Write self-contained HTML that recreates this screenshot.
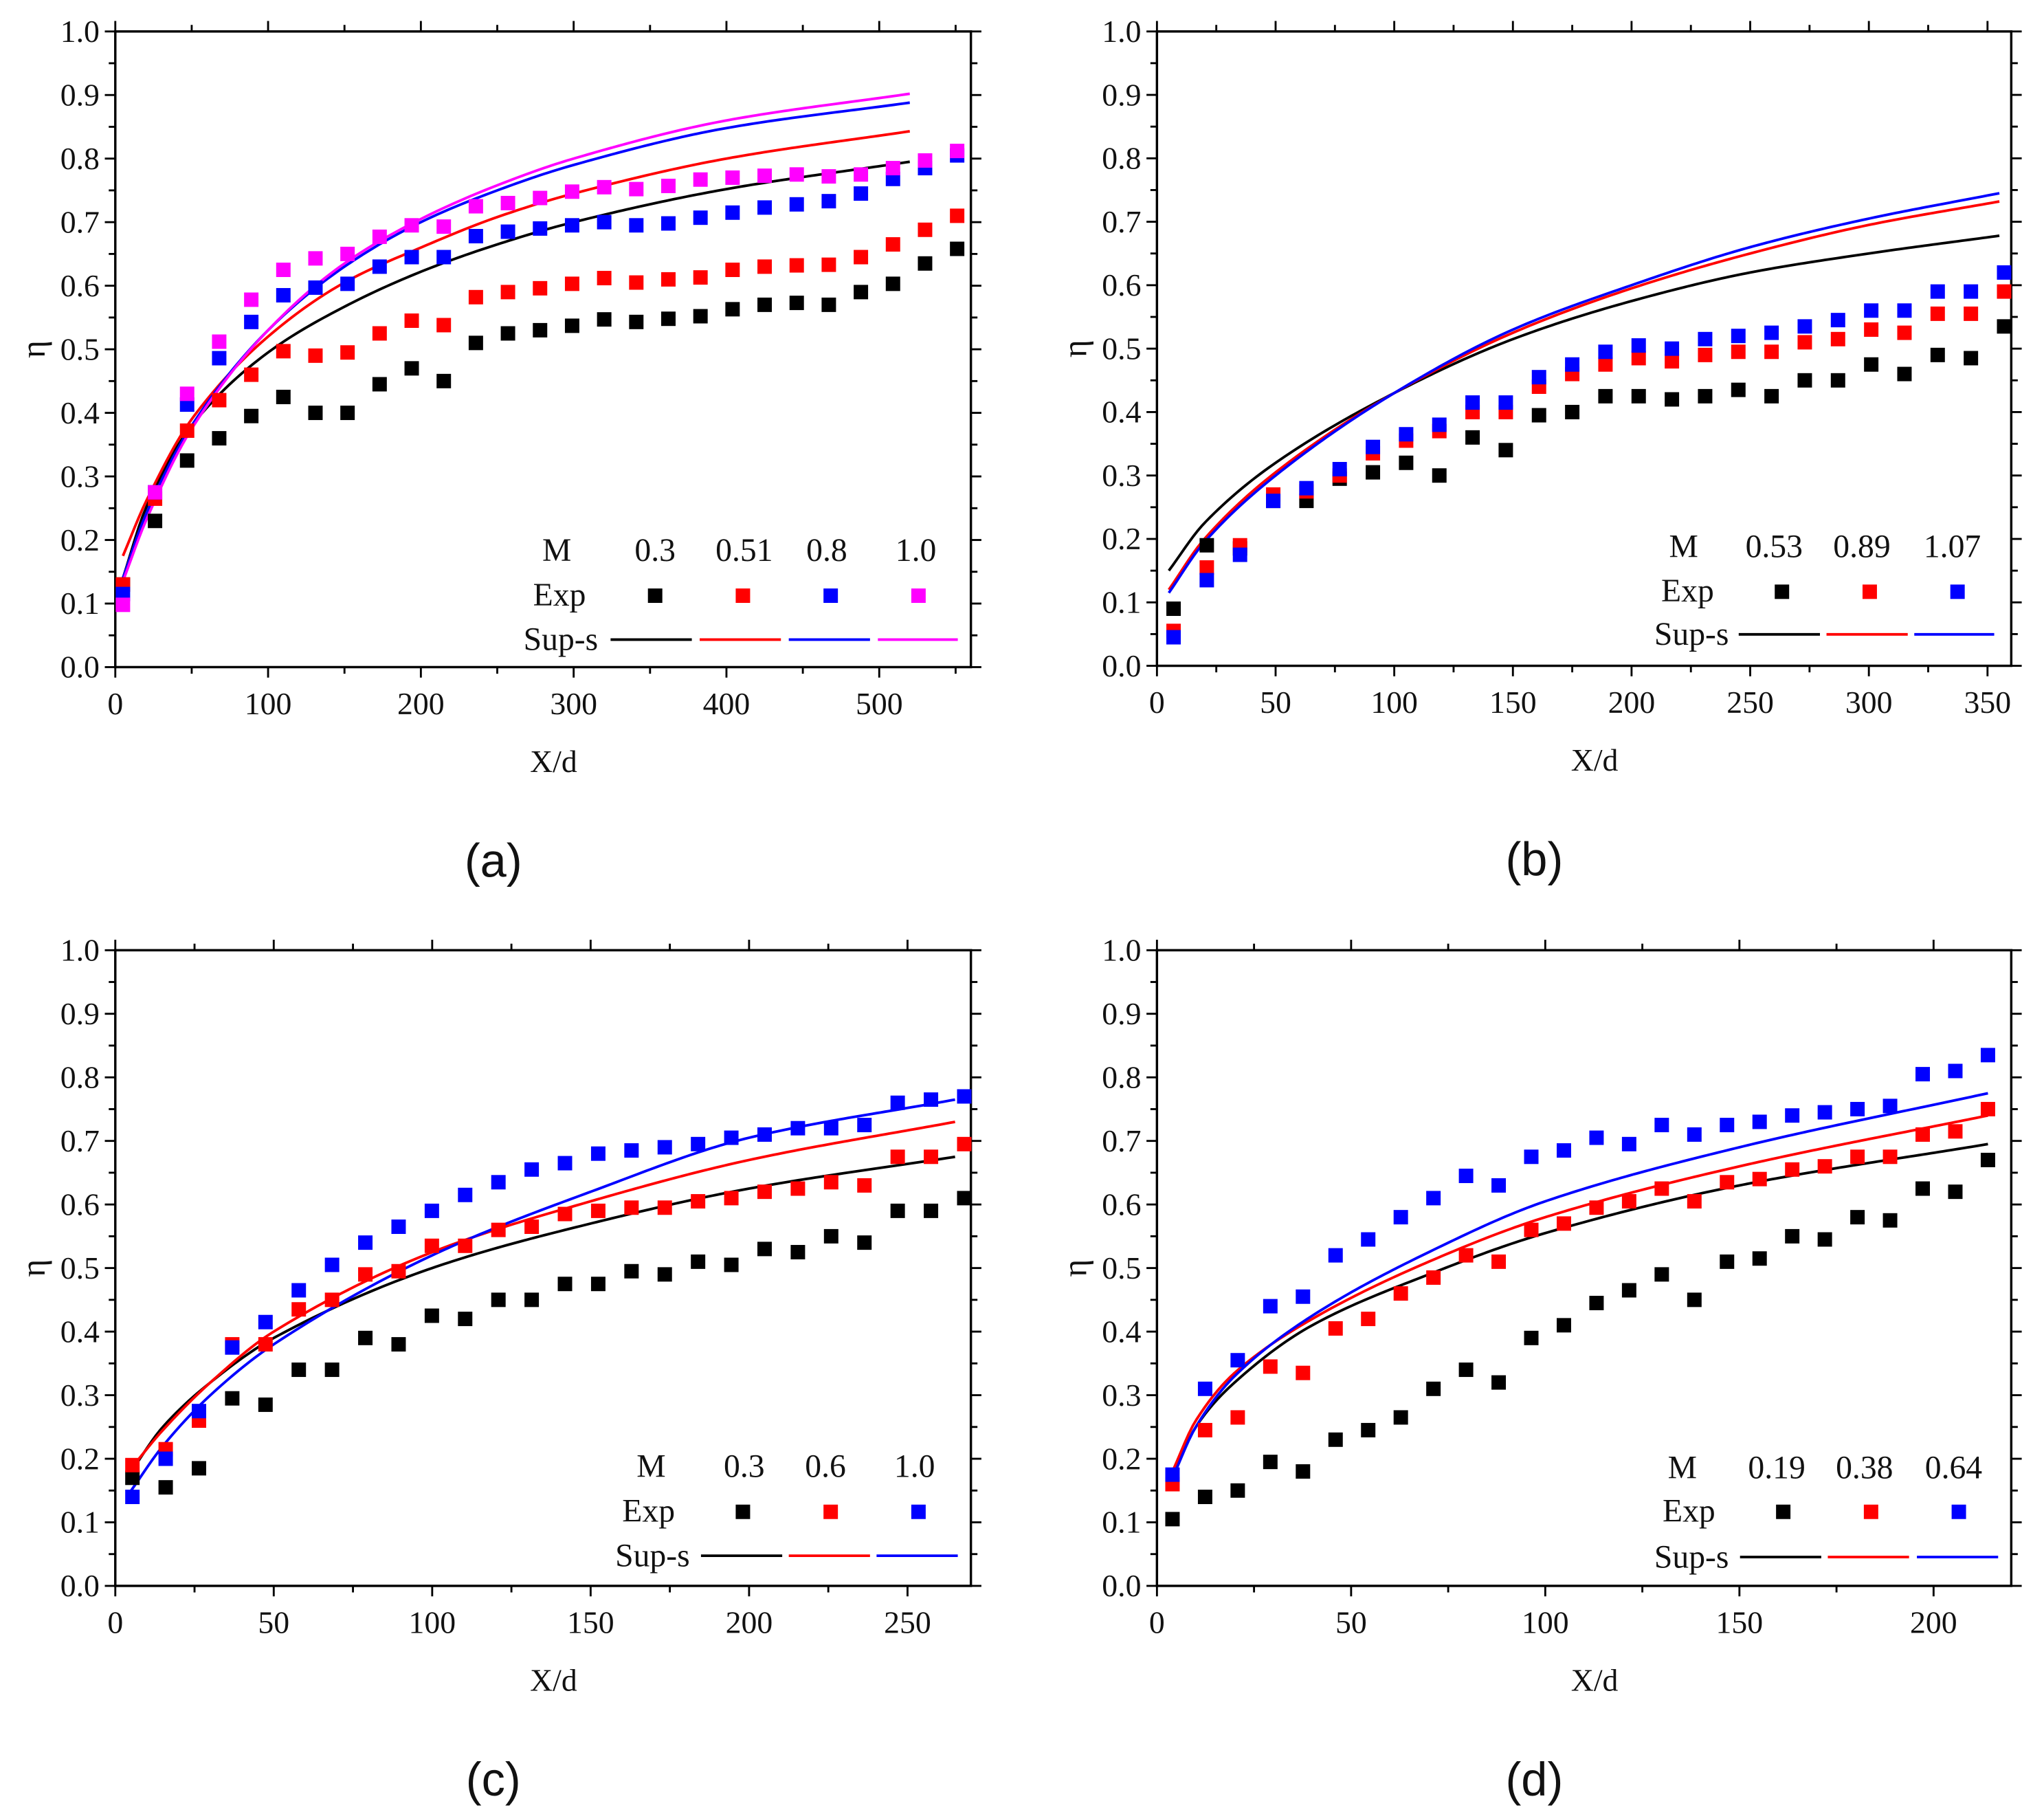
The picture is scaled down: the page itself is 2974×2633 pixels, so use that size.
<!DOCTYPE html>
<html><head><meta charset="utf-8">
<style>
html,body{margin:0;padding:0;background:#fff;}
svg{display:block;}
text{font-family:"Liberation Serif",serif;fill:#111;}
</style></head>
<body>
<svg id="fig" width="2974" height="2633" viewBox="0 0 1560 1381" preserveAspectRatio="none" xmlns="http://www.w3.org/2000/svg"></svg>
<script>
// ---------- Panel (a) data ----------
const aExpX=[5,26,47,68,89,110,131,152,173,194,215,236,257,278,299,320,341,362,383,404,425,446,467,488,509,530,551];
const aExpBlack=[0.13,0.23,0.325,0.36,0.395,0.425,0.40,0.40,0.445,0.47,0.45,0.51,0.525,0.53,0.537,0.547,0.543,0.548,0.552,0.563,0.57,0.573,0.57,0.59,0.603,0.635,0.658];
const aExpRed=[0.13,0.265,0.372,0.42,0.46,0.497,0.49,0.495,0.525,0.545,0.538,0.582,0.59,0.596,0.603,0.612,0.605,0.61,0.613,0.625,0.63,0.632,0.633,0.645,0.665,0.688,0.71];
const aExpBlue=[0.115,0.275,0.413,0.486,0.543,0.585,0.597,0.603,0.63,0.645,0.645,0.678,0.685,0.69,0.695,0.7,0.695,0.698,0.707,0.715,0.723,0.728,0.733,0.745,0.768,0.785,0.805];
const aExpMag=[0.098,0.275,0.43,0.512,0.578,0.625,0.643,0.65,0.677,0.695,0.693,0.725,0.73,0.738,0.748,0.755,0.752,0.757,0.767,0.77,0.773,0.775,0.772,0.775,0.785,0.797,0.812];
const aCurveX=[5,20,50,100,150,200,250,300,400,520];
const aCurveBlack=[0.14,0.25,0.38,0.495,0.567,0.622,0.665,0.70,0.752,0.795];
const aCurveRed=[0.175,0.26,0.39,0.52,0.605,0.66,0.708,0.745,0.80,0.843];
const aCurveBlue=[0.14,0.24,0.38,0.53,0.63,0.70,0.75,0.79,0.848,0.888];
const aCurveMag=[0.135,0.23,0.375,0.53,0.635,0.705,0.758,0.80,0.86,0.902];
const aLabels=["0.3","0.51","0.8","1.0"];
const aXTicks=[0,100,200,300,400,500];
// ---------- Panel (b) data ----------
const bExpX=[7,21,35,49,63,77,91,105,119,133,147,161,175,189,203,217,231,245,259,273,287,301,315,329,343,357];
const bExpBlack=[0.09,0.19,0.185,0.26,0.26,0.295,0.305,0.32,0.30,0.36,0.34,0.395,0.40,0.425,0.425,0.42,0.425,0.435,0.425,0.45,0.45,0.475,0.46,0.49,0.485,0.535];
const bExpRed=[0.055,0.155,0.19,0.27,0.275,0.30,0.335,0.355,0.37,0.40,0.40,0.44,0.46,0.475,0.485,0.48,0.49,0.495,0.495,0.51,0.515,0.53,0.525,0.555,0.555,0.59];
const bExpBlue=[0.045,0.135,0.175,0.26,0.28,0.31,0.345,0.365,0.38,0.415,0.415,0.455,0.475,0.495,0.505,0.50,0.515,0.52,0.525,0.535,0.545,0.56,0.56,0.59,0.59,0.62];
const bCurveX=[5,20,50,100,150,200,250,300,355];
const bCurveBlack=[0.15,0.225,0.32,0.43,0.515,0.575,0.62,0.65,0.678];
const bCurveRed=[0.12,0.2,0.305,0.43,0.525,0.595,0.65,0.695,0.732];
const bCurveBlue=[0.115,0.195,0.30,0.43,0.53,0.60,0.66,0.705,0.745];
const bLabels=["0.53","0.89","1.07"];
const bXTicks=[0,50,100,150,200,250,300,350];
// ---------- Panel (c) data ----------
const cExpX=[5.4,15.9,26.4,36.9,47.4,57.9,68.4,78.9,89.4,99.9,110.4,120.9,131.4,141.9,152.4,162.9,173.4,183.9,194.4,204.9,215.4,225.9,236.4,246.9,257.4,267.9];
const cExpBlack=[0.17,0.155,0.185,0.295,0.285,0.34,0.34,0.39,0.38,0.425,0.42,0.45,0.45,0.475,0.475,0.495,0.49,0.51,0.505,0.53,0.525,0.55,0.54,0.59,0.59,0.61];
const cExpRed=[0.19,0.215,0.26,0.38,0.38,0.435,0.45,0.49,0.495,0.535,0.535,0.56,0.565,0.585,0.59,0.595,0.595,0.605,0.61,0.62,0.625,0.635,0.63,0.675,0.675,0.695];
const cExpBlue=[0.14,0.20,0.275,0.375,0.415,0.465,0.505,0.54,0.565,0.59,0.615,0.635,0.655,0.665,0.68,0.685,0.69,0.695,0.705,0.71,0.72,0.72,0.725,0.76,0.765,0.77];
const cCurveX=[5,15,30,50,100,150,200,265];
const cCurveBlack=[0.18,0.25,0.32,0.39,0.50,0.57,0.625,0.675];
const cCurveRed=[0.185,0.245,0.32,0.40,0.525,0.605,0.67,0.73];
const cCurveBlue=[0.15,0.22,0.30,0.38,0.52,0.62,0.705,0.765];
const cLabels=["0.3","0.6","1.0"];
const cXTicks=[0,50,100,150,200,250];
// ---------- Panel (d) data ----------
const dExpX=[4,12.4,20.8,29.2,37.6,46,54.4,62.8,71.2,79.6,88,96.4,104.8,113.2,121.6,130,138.4,146.8,155.2,163.6,172,180.4,188.8,197.2,205.6,214];
const dExpBlack=[0.105,0.14,0.15,0.195,0.18,0.23,0.245,0.265,0.31,0.34,0.32,0.39,0.41,0.445,0.465,0.49,0.45,0.51,0.515,0.55,0.545,0.58,0.575,0.625,0.62,0.67];
const dExpRed=[0.16,0.245,0.265,0.345,0.335,0.405,0.42,0.46,0.485,0.52,0.51,0.56,0.57,0.595,0.605,0.625,0.605,0.635,0.64,0.655,0.66,0.675,0.675,0.71,0.715,0.75];
const dExpBlue=[0.175,0.31,0.355,0.44,0.455,0.52,0.545,0.58,0.61,0.645,0.63,0.675,0.685,0.705,0.695,0.725,0.71,0.725,0.73,0.74,0.745,0.75,0.755,0.805,0.81,0.835];
const dCurveX=[4,10,20,40,70,100,150,214];
const dCurveBlack=[0.17,0.25,0.32,0.41,0.49,0.555,0.63,0.695];
const dCurveRed=[0.18,0.26,0.335,0.42,0.51,0.58,0.66,0.74];
const dCurveBlue=[0.17,0.25,0.33,0.425,0.525,0.605,0.69,0.775];
const dLabels=["0.19","0.38","0.64"];
const dXTicks=[0,50,100,150,200];
const yTicks=[0,0.1,0.2,0.3,0.4,0.5,0.6,0.7,0.8,0.9,1.0];

const NS="http://www.w3.org/2000/svg";
const SERIF='"Liberation Serif", serif';
const svg=document.getElementById('fig');
function mk(tag,attrs,parent){const e=document.createElementNS(NS,tag);for(const k in attrs)e.setAttribute(k,attrs[k]);(parent||svg).appendChild(e);return e;}
function monotone(xs,ys){
  const n=xs.length,d=[],m=[];
  for(let i=0;i<n-1;i++)d.push((ys[i+1]-ys[i])/(xs[i+1]-xs[i]));
  m[0]=d[0];m[n-1]=d[n-2];
  for(let i=1;i<n-1;i++){m[i]=(d[i-1]*d[i]<=0)?0:(2/(1/d[i-1]+1/d[i]));}
  return function(x){
    let i=0;while(i<n-2&&x>xs[i+1])i++;
    const h=xs[i+1]-xs[i],t=(x-xs[i])/h;
    const h00=2*t*t*t-3*t*t+1,h10=t*t*t-2*t*t+t,h01=-2*t*t*t+3*t*t,h11=t*t*t-t*t;
    return h00*ys[i]+h10*h*m[i]+h01*ys[i+1]+h11*h*m[i+1];
  };
}
const colors=["#000","#f00","#00f","#f0f"];
function panel(cfg){
  const g=mk('g',{});
  
  
  const L=cfg.left,R=cfg.right,T=cfg.top,B=cfg.bottom;
  const sx=v=>L+(v-cfg.xmin)/(cfg.xmax-cfg.xmin)*(R-L);
  const sy=v=>B-(v)/(1.0)*(B-T);
  const fr=mk('rect',{x:L,y:T,width:R-L,height:B-T,fill:'none',stroke:'#000','stroke-width':1.8},g);
  
  
  const step=cfg.xticks[1]-cfg.xticks[0];
  for(let v=cfg.xticks[0];v<=cfg.xmax+1e-9;v+=step/2){
    const major=Math.abs((v/step)-Math.round(v/step))<1e-6;
    const len=major?8:5;const x=sx(v);
    mk('line',{x1:x,y1:B,x2:x,y2:B+len,stroke:'#000','stroke-width':1.5},g);
    mk('line',{x1:x,y1:T,x2:x,y2:T-len,stroke:'#000','stroke-width':1.5},g);
  }
  cfg.xticks.forEach(v=>{
    const t=mk('text',{x:sx(v),y:B+36,'text-anchor':'middle','font-size':24},g);t.textContent=v;
    
    
  });
  for(let i=0;i<=20;i++){
    const v=i*0.05;const y=sy(v);const len=i%2==0?8:5;
    mk('line',{x1:L,y1:y,x2:L-len,y2:y,stroke:'#000','stroke-width':1.5},g);
    mk('line',{x1:R,y1:y,x2:R+len,y2:y,stroke:'#000','stroke-width':1.5},g);
  }
  yTicks.forEach(v=>{
    const t=mk('text',{x:L-12,y:sy(v)+8,'text-anchor':'end','font-size':24},g);t.textContent=v.toFixed(1);
    
    
  });
  const xt=mk('text',{x:(L+R)/2+8,y:B+80,'text-anchor':'middle','font-size':24},g);xt.textContent='X/d';
  
  
  const yt=mk('text',{x:0,y:0,'text-anchor':'middle','font-size':26,transform:`translate(${L-54},${(T+B)/2}) rotate(-90)`},g);yt.textContent='η';
  
  
  const cap=mk('text',{x:(L+R)/2-38,y:B+160,'text-anchor':'middle','font-size':36,style:'font-family:"Liberation Sans",sans-serif'},g);cap.textContent='('+cfg.id+')';
  
  
  cfg.curves.forEach((c,i)=>{
    const f=monotone(cfg.curveX,c);
    const x0=cfg.curveX[0],x1=cfg.curveX[cfg.curveX.length-1];
    let d="";
    for(let k=0;k<=200;k++){const x=x0+(x1-x0)*k/200;d+=(k?"L":"M")+sx(x).toFixed(2)+","+sy(f(x)).toFixed(2);}
    const p=mk('path',{d:d,fill:'none',stroke:colors[i],'stroke-width':2,'stroke-linejoin':'round'},g);
    
    
  });
  cfg.exps.forEach((s,i)=>{
    s.forEach((v,j)=>{
      const r=mk('rect',{x:sx(cfg.expX[j])-5.5,y:sy(v)-5.5,width:11,height:11,fill:colors[i]},g);
      
      
    });
  });
  const lg=cfg.leg;
  const lgG=mk('g',{},g);
  
  
  const mt=mk('text',{x:lg.mx,y:lg.y1,'text-anchor':'middle','font-size':25},lgG);mt.textContent='M';
  const et=mk('text',{x:lg.ex,y:lg.y2,'text-anchor':'middle','font-size':25},lgG);et.textContent='Exp';
  const st=mk('text',{x:lg.sx,y:lg.y3,'text-anchor':'middle','font-size':25},lgG);st.textContent='Sup-s';
  cfg.labels.forEach((lab,i)=>{
    const tx=mk('text',{x:lg.vx[i],y:lg.y1,'text-anchor':'middle','font-size':25},lgG);tx.textContent=lab;
    
    
    mk('rect',{x:lg.sqx[i]-5.5,y:lg.y2-13,width:11,height:11,fill:colors[i]},lgG);
    mk('line',{x1:lg.lx[i][0],y1:lg.y3-8,x2:lg.lx[i][1],y2:lg.y3-8,stroke:colors[i],'stroke-width':2},lgG);
  });
}
panel({id:'a',left:88,right:741,top:24,bottom:509,xmin:0,xmax:560,xticks:aXTicks,
  expX:aExpX,exps:[aExpBlack,aExpRed,aExpBlue,aExpMag],curveX:aCurveX,curves:[aCurveBlack,aCurveRed,aCurveBlue,aCurveMag],labels:aLabels,
  leg:{mx:425,ex:427,sx:428,y1:428,y2:462,y3:496,vx:[500,568,631,699],sqx:[500,567,634,701],lx:[[466,528],[534,596],[602,664],[670,731]]}});
panel({id:'b',left:883,right:1535,top:24,bottom:508,xmin:0,xmax:360,xticks:bXTicks,
  expX:bExpX,exps:[bExpBlack,bExpRed,bExpBlue],curveX:bCurveX,curves:[bCurveBlack,bCurveRed,bCurveBlue],labels:bLabels,
  leg:{mx:1285,ex:1288,sx:1291,y1:425,y2:459,y3:492,vx:[1354,1421,1490],sqx:[1360,1427,1494],lx:[[1327,1389],[1394,1456],[1461,1522]]}});
panel({id:'c',left:88,right:741,top:725,bottom:1210,xmin:0,xmax:270,xticks:cXTicks,
  expX:cExpX,exps:[cExpBlack,cExpRed,cExpBlue],curveX:cCurveX,curves:[cCurveBlack,cCurveRed,cCurveBlue],labels:cLabels,
  leg:{mx:497,ex:495,sx:498,y1:1127,y2:1161,y3:1195,vx:[568,630,698],sqx:[567,634,701],lx:[[535,597],[602,664],[669,731]]}});
panel({id:'d',left:883,right:1535,top:725,bottom:1210,xmin:0,xmax:220,xticks:dXTicks,
  expX:dExpX,exps:[dExpBlack,dExpRed,dExpBlue],curveX:dCurveX,curves:[dCurveBlack,dCurveRed,dCurveBlue],labels:dLabels,
  leg:{mx:1284,ex:1289,sx:1291,y1:1128,y2:1161,y3:1196,vx:[1356,1423,1491],sqx:[1361,1428,1495],lx:[[1328,1390],[1395,1457],[1463,1525]]}});
</script>
</body></html>
